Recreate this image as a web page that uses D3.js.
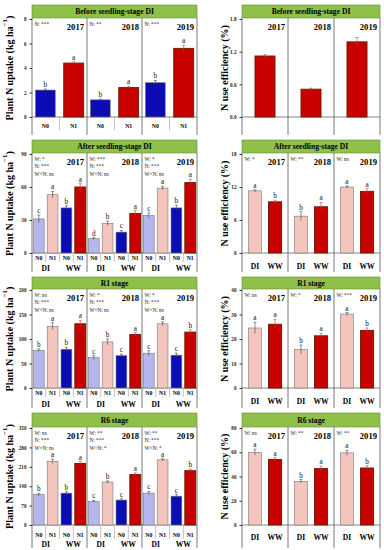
<!DOCTYPE html>
<html>
<head>
<meta charset="utf-8">
<script src="https://cdn.jsdelivr.net/npm/d3@7"></script>
<style>
  body { margin: 0; background: #fff; }
  svg text { font-family: "Liberation Serif", "Times New Roman", serif; }
</style>
</head>
<body>
<svg id="chart" width="384" height="550"></svg>
<script>
// Plant N uptake and N use efficiency, three years, four stages

var years = ["2017", "2018", "2019"];
var stages = ["Before seedling-stage DI", "After seedling-stage DI", "R1 stage", "R6 stage"];

// --- Plant N uptake (left column), values per year ---
// before seedling: N0, N1 (WW only)
var upBefore = [[2.2, 4.4], [1.4, 2.4], [2.8, 5.6]];
var upBeforeErr = [[0.08, 0.1], [0.06, 0.12], [0.18, 0.25]];
var upBeforeLet = [["b", "a"], ["b", "a"], ["b", "a"]];
var upBeforeStats = [["N: ***"], ["N: **"], ["N: ***"]];

// later stages: DI-N0, DI-N1, WW-N0, WW-N1
var upAfter = [[31, 53, 41, 60], [13, 27, 19, 36], [34, 59, 41, 64]];
var upAfterErr = [[3.5, 3, 2, 3], [1, 2, 1.5, 2.5], [2.5, 1.5, 2.5, 3]];
var upAfterLet = [["c", "a", "b", "a"], ["d", "b", "c", "a"], ["c", "a", "b", "a"]];
var upAfterStats = [["W: *", "N: ***", "W×N: ns"], ["W: ***", "N: ***", "W×N: ns"], ["W: *", "N: ***", "W×N: ns"]];

var upR1 = [[77, 126, 79, 131], [62, 94, 66, 109], [71, 131, 67, 114]];
var upR1Err = [[3, 7, 4, 7], [4, 6, 3, 4], [5, 4, 4, 5]];
var upR1Let = [["b", "a", "b", "a"], ["c", "b", "c", "a"], ["c", "a", "c", "b"]];
var upR1Stats = [["W: ns", "N: ***", "W×N: ns"], ["W: *", "N: ***", "W×N: ns"], ["W: *", "N: ***", "W×N: ns"]];

var upR6 = [[110, 230, 115, 222], [85, 155, 90, 182], [115, 235, 104, 196]];
var upR6Err = [[5, 8, 5, 7], [4, 4, 5, 6], [6, 4, 6, 6]];
var upR6Let = [["b", "a", "b", "a"], ["c", "b", "c", "a"], ["c", "a", "c", "b"]];
var upR6Stats = [["W: ns", "N: ***", "W×N: ns"], ["W: **", "N: ***", "W×N: *"], ["W: **", "N: ***", "W×N: *"]];

// --- N use efficiency (right column) ---
var nueBefore = [[1.12], [0.51], [1.38]];
var nueBeforeErr = [[0.03], [0.02], [0.08]];

var nueAfter = [[11.3, 9.3], [6.7, 8.4], [12.0, 11.2]];
var nueAfterErr = [[0.2, 0.3], [0.8, 0.8], [0.2, 0.5]];
var nueAfterLet = [["a", "b"], ["b", "a"], ["a", "a"]];
var nueAfterStats = [["W: *"], ["W: **"], ["W: ns"]];

var nueR1 = [[24.5, 26.0], [15.7, 21.3], [30.2, 23.5]];
var nueR1Err = [[2.3, 2.0], [1.8, 1.0], [0.6, 1.0]];
var nueR1Let = [["a", "a"], ["b", "a"], ["a", "b"]];
var nueR1Stats = [["W: ns"], ["W: *"], ["W: ***"]];

var nueR6 = [[60, 54], [36, 46.5], [59.5, 47]];
var nueR6Err = [[2.5, 1.5], [1.5, 2], [2, 2]];
var nueR6Let = [["a", "a"], ["b", "a"], ["a", "b"]];
var nueR6Stats = [["W: ns"], ["W: **"], ["W: **"]];

// colors
var cN0DI = "#b6b6ee", cN1DI = "#f3c5bd", cN0WW = "#0c0cb4", cN1WW = "#c80000";

var svg = d3.select("#chart");

// vertical layout of the four rows
var rows = [
  {hTop: 5, hBot: 18, yTop: 19, yBot: 117, nLab: 126, gLab: null, rLab: null, bottom: 135},
  {hTop: 140, hBot: 153, yTop: 154, yBot: 253, nLab: 258, gLab: 268, rLab: 266, bottom: 272},
  {hTop: 277, hBot: 289, yTop: 290, yBot: 388, nLab: 393, gLab: 404, rLab: 401, bottom: 408},
  {hTop: 413, hBot: 427, yTop: 428, yBot: 525, nLab: 535, gLab: 544, rLab: 537, bottom: 548}
];

var leftCol = {x0: 32, x1: 197};
var rightCol = {x0: 242, x1: 380};

var panels = [
  {row: 0, col: leftCol, vals: upBefore, err: upBeforeErr, lets: upBeforeLet, stats: upBeforeStats,
   max: 8, ticks: [0, 2, 4, 6, 8], fmt: d3.format("d"), colors: [cN0WW, cN1WW],
   nLabels: ["N0", "N1"], groups: null, pi: 0.3, po: 0.12, title: "left"},
  {row: 1, col: leftCol, vals: upAfter, err: upAfterErr, lets: upAfterLet, stats: upAfterStats,
   max: 90, ticks: [0, 30, 60, 90], fmt: d3.format("d"), colors: [cN0DI, cN1DI, cN0WW, cN1WW],
   nLabels: ["N0", "N1", "N0", "N1"], groups: ["DI", "WW"], pi: 0.22, po: 0.1, title: "left"},
  {row: 2, col: leftCol, vals: upR1, err: upR1Err, lets: upR1Let, stats: upR1Stats,
   max: 200, ticks: [0, 50, 100, 150, 200], fmt: d3.format("d"), colors: [cN0DI, cN1DI, cN0WW, cN1WW],
   nLabels: ["N0", "N1", "N0", "N1"], groups: ["DI", "WW"], pi: 0.22, po: 0.1, title: "left"},
  {row: 3, col: leftCol, vals: upR6, err: upR6Err, lets: upR6Let, stats: upR6Stats,
   max: 350, ticks: [0, 70, 140, 210, 280, 350], fmt: d3.format("d"), colors: [cN0DI, cN1DI, cN0WW, cN1WW],
   nLabels: ["N0", "N1", "N0", "N1"], groups: ["DI", "WW"], pi: 0.22, po: 0.1, title: "left"},
  {row: 0, col: rightCol, vals: nueBefore, err: nueBeforeErr, lets: null, stats: null,
   max: 1.8, ticks: [0, 0.6, 1.2, 1.8], fmt: d3.format(".1f"), colors: [cN1WW],
   nLabels: null, groups: null, pi: 0.3, po: 0.455, title: "right"},
  {row: 1, col: rightCol, vals: nueAfter, err: nueAfterErr, lets: nueAfterLet, stats: nueAfterStats,
   max: 18, ticks: [0, 6, 12, 18], fmt: d3.format("d"), colors: [cN1DI, cN1WW],
   nLabels: null, groups: ["DI", "WW"], pi: 0.35, po: 0.32, title: "right"},
  {row: 2, col: rightCol, vals: nueR1, err: nueR1Err, lets: nueR1Let, stats: nueR1Stats,
   max: 40, ticks: [0, 10, 20, 30, 40], fmt: d3.format("d"), colors: [cN1DI, cN1WW],
   nLabels: null, groups: ["DI", "WW"], pi: 0.35, po: 0.32, title: "right"},
  {row: 3, col: rightCol, vals: nueR6, err: nueR6Err, lets: nueR6Let, stats: nueR6Stats,
   max: 80, ticks: [0, 20, 40, 60, 80], fmt: d3.format("d"), colors: [cN1DI, cN1WW],
   nLabels: null, groups: ["DI", "WW"], pi: 0.35, po: 0.32, title: "right"}
];

function drawPanel(p) {
  var r = rows[p.row];
  var g = svg.append("g");
  var ncat = p.vals[0].length;

  var x = d3.scaleBand().domain(years).range([p.col.x0, p.col.x1]);
  var xi = d3.scaleBand().domain(d3.range(ncat)).range([0, x.bandwidth()])
             .paddingInner(p.pi).paddingOuter(p.po);
  var y = d3.scaleLinear().domain([0, p.max]).range([r.yBot, r.yTop]);

  // header strip
  g.append("rect")
    .attr("x", p.col.x0).attr("y", r.hTop)
    .attr("width", p.col.x1 - p.col.x0).attr("height", r.hBot - r.hTop)
    .attr("fill", "#8fc04a").attr("stroke", "#6a8a3a").attr("stroke-width", 0.6);
  g.append("text")
    .attr("x", (p.col.x0 + p.col.x1) / 2).attr("y", (r.hTop + r.hBot) / 2)
    .attr("text-anchor", "middle").attr("dominant-baseline", "central")
    .attr("font-size", 7.6).attr("font-weight", "bold")
    .text(stages[p.row]);

  var bottom = r.bottom;

  // frame: right border and year separators
  var seps = years.map(function (yr) { return x(yr); }).slice(1).concat([p.col.x1]);
  g.selectAll(".sep").data(seps).enter().append("line")
    .attr("x1", function (d) { return d; }).attr("x2", function (d) { return d; })
    .attr("y1", r.hBot).attr("y2", bottom)
    .attr("stroke", "#555").attr("stroke-width", 0.8);
  g.append("line")
    .attr("x1", p.col.x0).attr("x2", p.col.x0)
    .attr("y1", r.hBot).attr("y2", bottom)
    .attr("stroke", "#555").attr("stroke-width", 0.8);

  // y axis
  var ax = g.append("g")
    .attr("transform", "translate(" + p.col.x0 + ",0)")
    .call(d3.axisLeft(y).tickValues(p.ticks).tickFormat(p.fmt).tickSize(2.5).tickSizeOuter(0));
  ax.select(".domain").remove();
  ax.selectAll("line").attr("stroke", "#333");
  ax.selectAll("text").attr("font-size", 5.2).attr("font-weight", "bold")
    .attr("font-family", "Liberation Serif, serif").attr("fill", "#222");

  // x axis line at zero
  g.append("line")
    .attr("x1", p.col.x0).attr("x2", p.col.x1)
    .attr("y1", y(0)).attr("y2", y(0))
    .attr("stroke", "#666").attr("stroke-width", 0.8);

  years.forEach(function (yr, yi) {
    var gx = x(yr);
    var cells = p.vals[yi].map(function (v, i) {
      return {i: i, v: v, e: p.err[yi][i], l: p.lets ? p.lets[yi][i] : null};
    });

    // bars
    g.selectAll(".bar" + yi).data(cells).enter().append("rect")
      .attr("x", function (d) { return gx + xi(d.i); })
      .attr("y", function (d) { return y(d.v); })
      .attr("width", xi.bandwidth())
      .attr("height", function (d) { return y(0) - y(d.v); })
      .attr("fill", function (d) { return p.colors[d.i]; })
      .attr("stroke", function (d) { return p.colors[d.i] == cN1WW ? "#6e2200" : "#777"; })
      .attr("stroke-width", function (d) { return p.colors[d.i] == cN1WW ? 1 : 0.6; });

    // error bars
    cells.forEach(function (d) {
      var cx = gx + xi(d.i) + xi.bandwidth() / 2;
      var col = p.colors[d.i] == cN1WW ? "#e03030" : "#444";
      g.append("line").attr("x1", cx).attr("x2", cx)
        .attr("y1", y(d.v - d.e)).attr("y2", y(d.v + d.e))
        .attr("stroke", col).attr("stroke-width", 0.6);
      g.append("line").attr("x1", cx - 1.5).attr("x2", cx + 1.5)
        .attr("y1", y(d.v + d.e)).attr("y2", y(d.v + d.e))
        .attr("stroke", col).attr("stroke-width", 0.6);
      if (d.l) {
        g.append("text").attr("x", cx).attr("y", y(d.v + d.e) - 2)
          .attr("text-anchor", "middle").attr("font-size", 7.2)
          .attr("fill", "#111").text(d.l);
      }
    });

    // year label
    g.append("text").attr("x", gx + x.bandwidth() - 3).attr("y", r.yTop + 11)
      .attr("text-anchor", "end").attr("font-size", 8.6).attr("font-weight", "bold")
      .text(yr);

    // stats
    if (p.stats) {
      p.stats[yi].forEach(function (s, si) {
        g.append("text").attr("x", gx + 2.5).attr("y", r.yTop + 7 + si * 7.4)
          .attr("font-size", 5.3).attr("fill", "#222").text(s);
      });
    }

    // category labels under axis
    if (p.nLabels) {
      p.nLabels.forEach(function (lab, i) {
        var cx = gx + xi(i) + xi.bandwidth() / 2;
        g.append("text").attr("x", cx).attr("y", r.nLab)
          .attr("text-anchor", "middle").attr("dominant-baseline", "central")
          .attr("font-size", 5.8).attr("font-weight", "bold").text(lab);
        if (i > 0) {
          var sx = gx + xi(i) - xi.step() * xi.paddingInner() / 2;
          g.append("line").attr("x1", sx).attr("x2", sx)
            .attr("y1", y(0)).attr("y2", r.nLab + 4)
            .attr("stroke", "#888").attr("stroke-width", 0.5);
        }
      });
    }
    if (p.groups) {
      p.groups.forEach(function (grp, gi) {
        var cx, ly;
        if (p.nLabels) {
          cx = gx + (xi(gi * 2) + xi(gi * 2 + 1) + xi.bandwidth()) / 2;
          ly = r.gLab;
        } else {
          cx = gx + xi(gi) + xi.bandwidth() / 2;
          ly = r.rLab;
        }
        g.append("text").attr("x", cx).attr("y", ly)
          .attr("text-anchor", "middle").attr("dominant-baseline", "central")
          .attr("font-size", 7.6).attr("font-weight", "bold").text(grp);
      });
    }
  });

  // axis title
  var cy = (r.yTop + r.yBot) / 2;
  var tx = p.title == "left" ? 9 : 224;
  var t = g.append("text")
    .attr("transform", "translate(" + tx + "," + cy + ") rotate(-90)")
    .attr("text-anchor", "middle").attr("dominant-baseline", "central")
    .attr("font-size", 10).attr("font-weight", "bold");
  if (p.title == "left") {
    t.append("tspan").text("Plant N uptake (kg ha");
    t.append("tspan").attr("font-size", 7).attr("dy", -4).text("−1");
    t.append("tspan").attr("dy", 4).text(")");
  } else {
    t.text("N use efficiency (%)");
  }
}

panels.forEach(drawPanel);
</script>
</body>
</html>
